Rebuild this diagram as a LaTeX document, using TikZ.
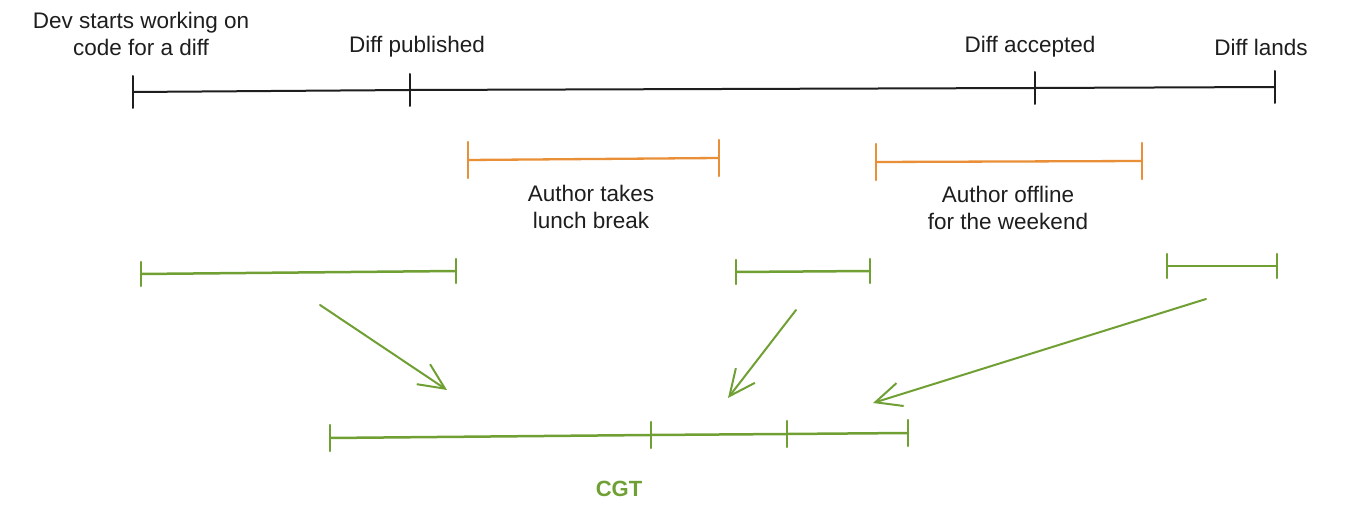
\documentclass[tikz,border=0pt]{standalone}
\usepackage{fontspec}
\setmainfont{Liberation Sans}
\usetikzlibrary{arrows.meta}
\definecolor{ink}{RGB}{30,30,30}
\definecolor{pause}{RGB}{233,143,55}
\definecolor{work}{RGB}{112,160,52}

\begin{document}
\begin{tikzpicture}[x=1pt,y=-1pt,
  lbl/.style={font=\fontsize{22.5}{27}\selectfont, align=center, text=ink, inner sep=0pt},
  timeline/.style={draw=ink, line width=2pt, line cap=round},
  pausebar/.style={draw=pause, line width=2.3pt, line cap=round},
  workbar/.style={draw=work, line width=2.5pt, line cap=round},
  flow/.style={draw=work, line width=2pt, line cap=round,
    -{Straight Barb[length=26pt,width=24pt,line width=2pt]}}]
\useasboundingbox[fill=white] (0,0) rectangle (1353,505);

% --- main timeline ---
\coordinate (t0) at (133,92);
\coordinate (t1) at (410,90);
\coordinate (t2) at (1035,88);
\coordinate (t3) at (1275,87);
\draw[timeline] (t0) -- (t1) -- (t2) -- (t3);
\foreach \p in {t0,t1,t2,t3}
  \draw[timeline] ([yshift=16pt]\p) -- ([yshift=-16pt]\p);

\node[lbl] (start) at (141,34) {Dev starts working on\\code for a diff};
\node[lbl] (pub) at (417,47) {Diff published};
\node[lbl] (acc) at (1030,47) {Diff accepted};
\node[lbl] (land) at (1261,47) {Diff lands};

% --- author away ---
\coordinate (o1a) at (468,160);
\coordinate (o1b) at (719,158);
\coordinate (o2a) at (876,162);
\coordinate (o2b) at (1142,161);
\draw[pausebar] (o1a) -- (o1b);
\draw[pausebar] (o2a) -- (o2b);
\foreach \p in {o1a,o1b,o2a,o2b}
  \draw[pausebar] ([yshift=18pt]\p) -- ([yshift=-18pt]\p);

\node[lbl] (lunch) at (591,207) {Author takes\\lunch break};
\node[lbl] (weekend) at (1008,208) {Author offline\\for the weekend};

% --- working intervals ---
\coordinate (g1a) at (141,274);
\coordinate (g1b) at (456,271);
\coordinate (g2a) at (736,272);
\coordinate (g2b) at (870,271);
\coordinate (g3a) at (1167,266);
\coordinate (g3b) at (1277,266);
\draw[workbar] (g1a) -- (g1b);
\draw[workbar] (g2a) -- (g2b);
\draw[workbar] (g3a) -- (g3b);
\foreach \p in {g1a,g1b,g2a,g2b,g3a,g3b}
  \draw[workbar] ([yshift=12pt]\p) -- ([yshift=-12pt]\p);

% --- stacked total ---
\coordinate (c0) at (330,438);
\coordinate (c1) at (651,435);
\coordinate (c2) at (787,434);
\coordinate (c3) at (908,433);
\draw[workbar] (c0) -- (c1) -- (c2) -- (c3);
\foreach \p in {c0,c1,c2,c3}
  \draw[workbar] ([yshift=13pt]\p) -- ([yshift=-13pt]\p);

\node[lbl, text=work, font=\fontsize{22}{27}\selectfont\bfseries] (cgt) at (619,489) {CGT};

% --- arrows gathering the intervals ---
\coordinate (a1s) at (320,305);
\coordinate (a1e) at (447,390);
\coordinate (a2s) at (796,310);
\coordinate (a2e) at (728,398);
\coordinate (a3s) at (1206,299);
\coordinate (a3e) at (873,403);
\draw[flow] (a1s) -- (a1e);
\draw[flow] (a2s) -- (a2e);
\draw[flow] (a3s) -- (a3e);
\end{tikzpicture}
\end{document}
